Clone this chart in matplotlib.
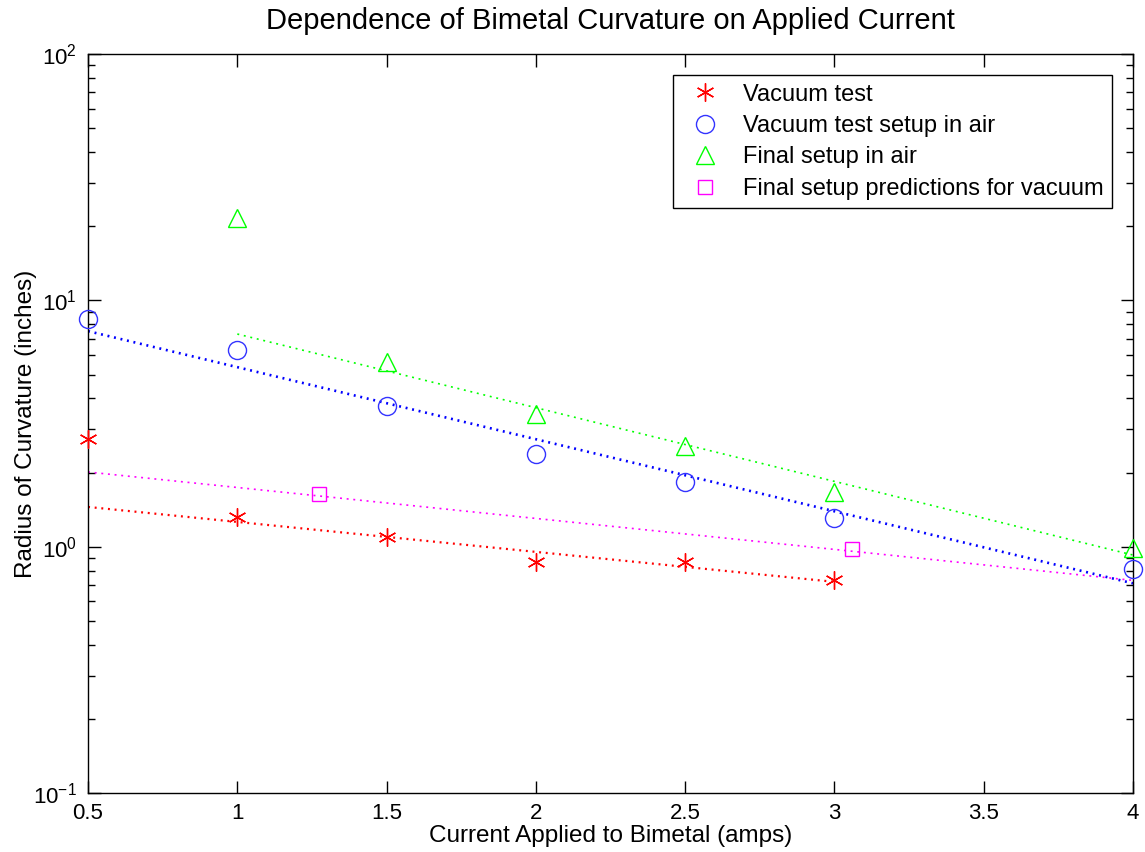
import numpy as np
import matplotlib
matplotlib.use("Agg")
import matplotlib.pyplot as plt
from matplotlib.ticker import LogLocator, FixedLocator

plt.rcParams['font.family'] = ['Liberation Sans', 'DejaVu Sans']
plt.rcParams['lines.scale_dashes'] = False

# Data
vac_x = [0.5, 1.0, 1.5, 2.0, 2.5, 3.0]
vac_y = [2.74, 1.32, 1.10, 0.87, 0.87, 0.73]

air_x = [0.5, 1.0, 1.5, 2.0, 2.5, 3.0, 4.0]
air_y = [8.4, 6.3, 3.73, 2.38, 1.83, 1.31, 0.81]

final_x = [1.0, 1.5, 2.0, 2.5, 3.0, 4.0]
final_y = [21.6, 5.62, 3.46, 2.56, 1.67, 0.99]

pred_x = [1.274, 3.06]
pred_y = [1.64, 0.98]

# Fit lines (endpoints, straight on semilog)
vac_fit_x = [0.5, 3.0]
vac_fit_y = [1.45, 0.72]
air_fit_x = [0.5, 4.0]
air_fit_y = [7.5, 0.71]
final_fit_x = [1.0, 4.0]
final_fit_y = [7.3, 0.925]
pred_fit_x = [0.5, 4.0]
pred_fit_y = [2.01, 0.73]

xticks = [0.5, 1, 1.5, 2, 2.5, 3, 3.5, 4]
xtick_labels = ['0.5', '1', '1.5', '2', '2.5', '3', '3.5', '4']

def fit_curve(xs, ys, n=200):
    xx = np.linspace(xs[0], xs[1], n)
    ly = np.interp(xx, xs, np.log10(ys))
    return xx, 10 ** ly

fig = plt.figure(figsize=(11.45, 8.52), dpi=100)
ax = fig.add_axes([0.0769, 0.0692, 0.9126, 0.8674])

RED, BLUE, GREEN, MAG = (1, 0, 0), (0, 0, 1), (0, 1, 0), (1, 0, 1)

for (fx, fy, c, lw) in [(vac_fit_x, vac_fit_y, RED, 1.6),
                        (air_fit_x, air_fit_y, BLUE, 1.9),
                        (final_fit_x, final_fit_y, GREEN, 1.2),
                        (pred_fit_x, pred_fit_y, MAG, 1.2)]:
    xx, yy = fit_curve(fx, fy)
    ax.plot(xx, yy, ls=(0, (1.4, 3.4)), color=c, lw=lw)

h1, = ax.plot(vac_x, vac_y, ls='none', marker=(6, 2, 0), ms=13, mew=1.0,
              color=RED, label='Vacuum test', clip_on=False, zorder=5)
h2, = ax.plot(air_x, air_y, ls='none', marker='o', ms=13, mfc='none', mew=1.0,
              color=(0.2, 0.2, 1), label='Vacuum test setup in air', clip_on=False, zorder=5)
h3, = ax.plot(final_x, final_y, ls='none', marker='^', ms=13, mfc='none', mew=1.0,
              color=GREEN, label='Final setup in air', clip_on=False, zorder=5)
h4, = ax.plot(pred_x, pred_y, ls='none', marker='s', ms=10, mfc='none', mew=1.0,
              color=MAG, label='Final setup predictions for vacuum', clip_on=False, zorder=5)

ax.set_yscale('log')
ax.set_xlim(0.5, 4)
ax.set_ylim(0.1, 100)
ax.xaxis.set_major_locator(FixedLocator(xticks))
ax.set_xticklabels(xtick_labels)
ax.yaxis.set_major_locator(LogLocator(base=10, numticks=10))
ax.yaxis.set_minor_locator(LogLocator(base=10, subs=np.arange(2, 10), numticks=20))

ax.tick_params(which='both', direction='in', top=True, right=True, labelsize=16,
               width=1.0)
ax.tick_params(axis='x', pad=7)
ax.tick_params(axis='y', pad=8)
ax.tick_params(which='major', length=9)
ax.tick_params(which='minor', length=5)
for sp in ax.spines.values():
    sp.set_linewidth(1.0)

ax.set_title('Dependence of Bimetal Curvature on Applied Current', fontsize=21, pad=18)
ax.set_xlabel('Current Applied to Bimetal (amps)', fontsize=17.5, labelpad=1)
ax.set_ylabel('Radius of Curvature (inches)', fontsize=17.5, labelpad=-3)

leg = ax.legend(handles=[h1, h2, h3, h4], loc='upper right', fontsize=17,
                fancybox=False, framealpha=1, edgecolor='black',
                borderaxespad=0.9, handletextpad=0.6, labelspacing=0.4,
                borderpad=0.35, handlelength=2.0)
leg.get_frame().set_linewidth(1.0)

fig.savefig('out.png', dpi=100)
